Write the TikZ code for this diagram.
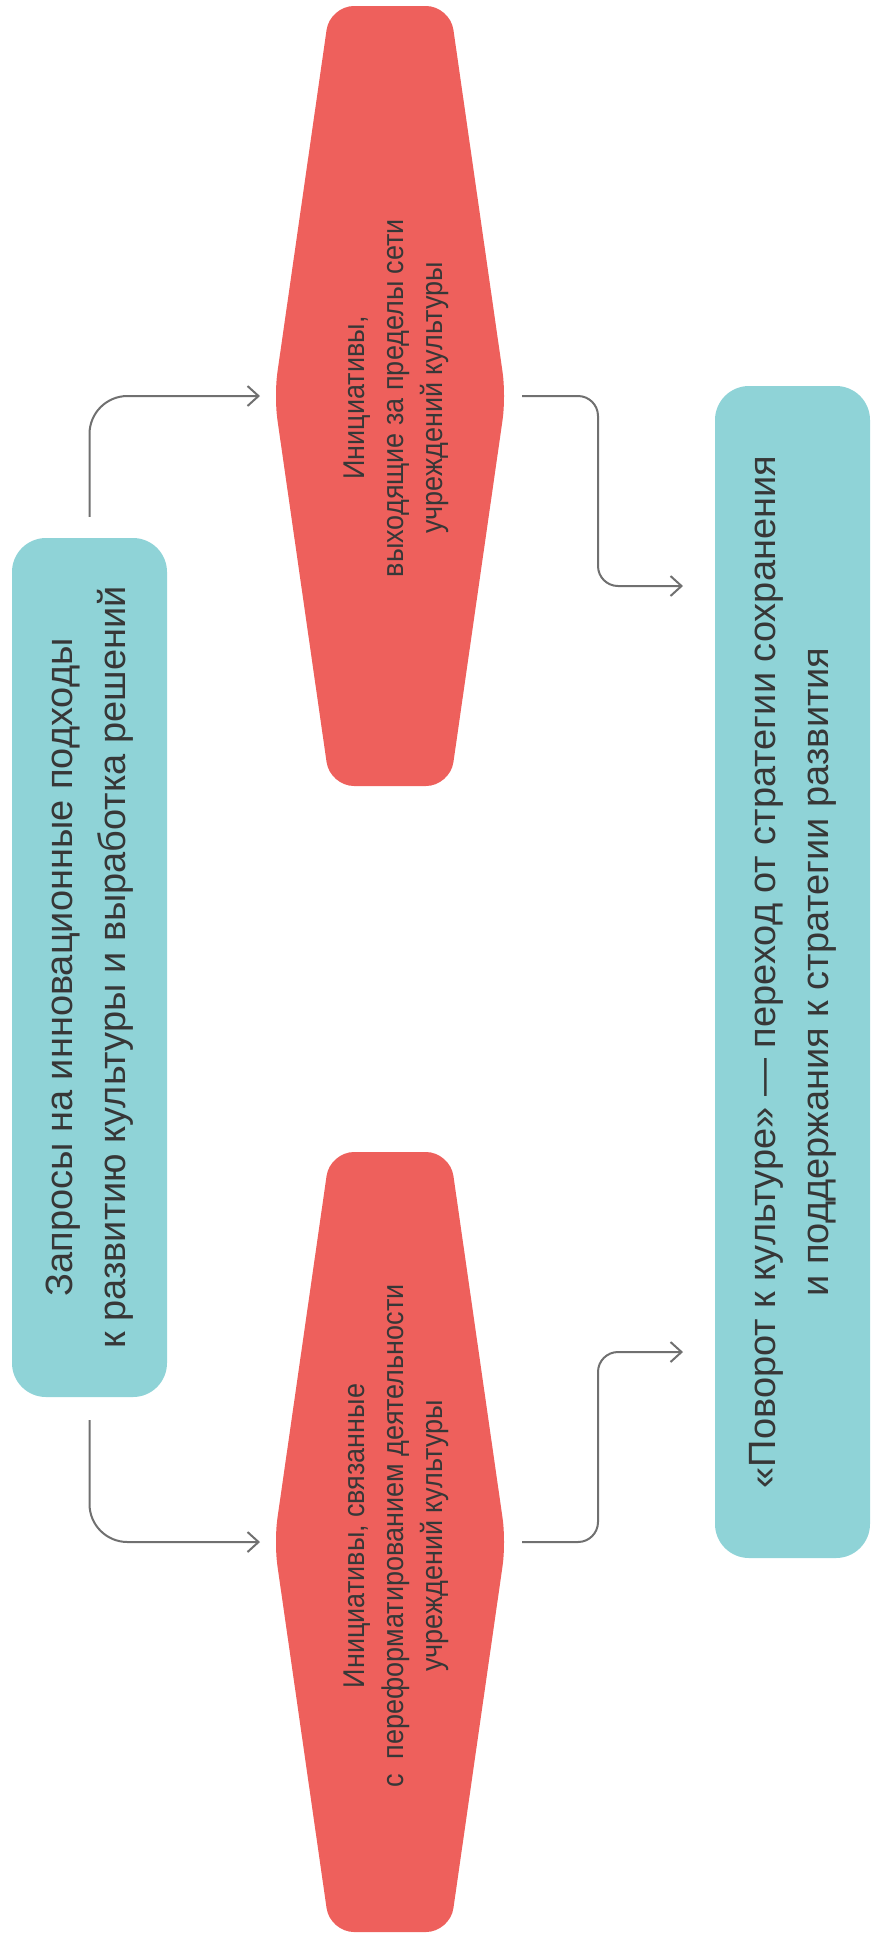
\documentclass[tikz,border=0pt]{standalone}
\usepackage{fontspec}
\setmainfont{Liberation Sans}
\newfontfamily\narrowsans[FakeStretch=0.9]{Liberation Sans}
\usetikzlibrary{arrows.meta}
\definecolor{tealfill}{HTML}{8FD3D7}
\definecolor{redfill}{HTML}{EE605C}
\definecolor{inkgray}{HTML}{373737}
\definecolor{linegray}{HTML}{707070}

% red hexagon with its two side vertices as named coordinates
\newcommand\hexshape[3]{%
  \fill[redfill, rounded corners=24pt]
    (#2-116,#3) -- (#2-60,#3-390) -- (#2+60,#3-390) -- (#2+116,#3)
    -- (#2+60,#3+390) -- (#2-60,#3+390) -- cycle;
  \coordinate (#1-w) at (#2-116,#3);
  \coordinate (#1-e) at (#2+116,#3);
}

\begin{document}
\begin{tikzpicture}[x=1pt,y=-1pt,
  tealbox/.style={fill=tealfill, rounded corners=34pt, draw=none, inner sep=0pt},
  boxtext/.style={rotate=90, align=center, text=inkgray, inner sep=0pt,
    font=\fontsize{38}{53}\selectfont},
  hextext/.style={rotate=90, align=center, text=inkgray, inner sep=0pt,
    font=\narrowsans\fontsize{30}{39}\selectfont},
  conn/.style={draw=linegray, line width=2pt,
    -{Straight Barb[length=11pt,width=20pt,line width=2pt]}},
]
\useasboundingbox (0,0) rectangle (873,1936);

% boxes
\node[tealbox, minimum width=155pt, minimum height=859pt] (req) at (89.5,967.5) {};
\node[boxtext] (reqtext) at (req.center)
  {Запросы на инновационные подходы\\к развитию культуры и выработка решений};

\node[tealbox, minimum width=155pt, minimum height=1172pt] (turn) at (792.5,972) {};
\node[boxtext] (turntext) at (turn.center)
  {«Поворот к культуре» — переход от стратегии сохранения\\и поддержания к стратегии развития};

\hexshape{ini}{390}{396}
\node[hextext] (initext) at (396,398)
  {Инициативы,\\выходящие за пределы сети\\учреждений культуры};

\hexshape{ref}{390}{1542}
\node[hextext] (reftext) at (396,1536)
  {Инициативы, связанные\\с\ \ переформатированием деятельности\\учреждений культуры};

% arrow ends at the right box
\coordinate (in1) at (683,586);
\coordinate (in2) at (683,1352);

% connectors
\draw[conn, rounded corners=38pt] ([yshift=21pt]req.north) |- ([xshift=-14pt]ini-w);
\draw[conn, rounded corners=38pt] ([yshift=-23pt]req.south) |- ([xshift=-14pt]ref-w);
\draw[conn, rounded corners=20pt] ([xshift=16pt]ini-e) -- ++(76,0) |- (in1);
\draw[conn, rounded corners=20pt] ([xshift=16pt]ref-e) -- ++(76,0) |- (in2);
\end{tikzpicture}
\end{document}
